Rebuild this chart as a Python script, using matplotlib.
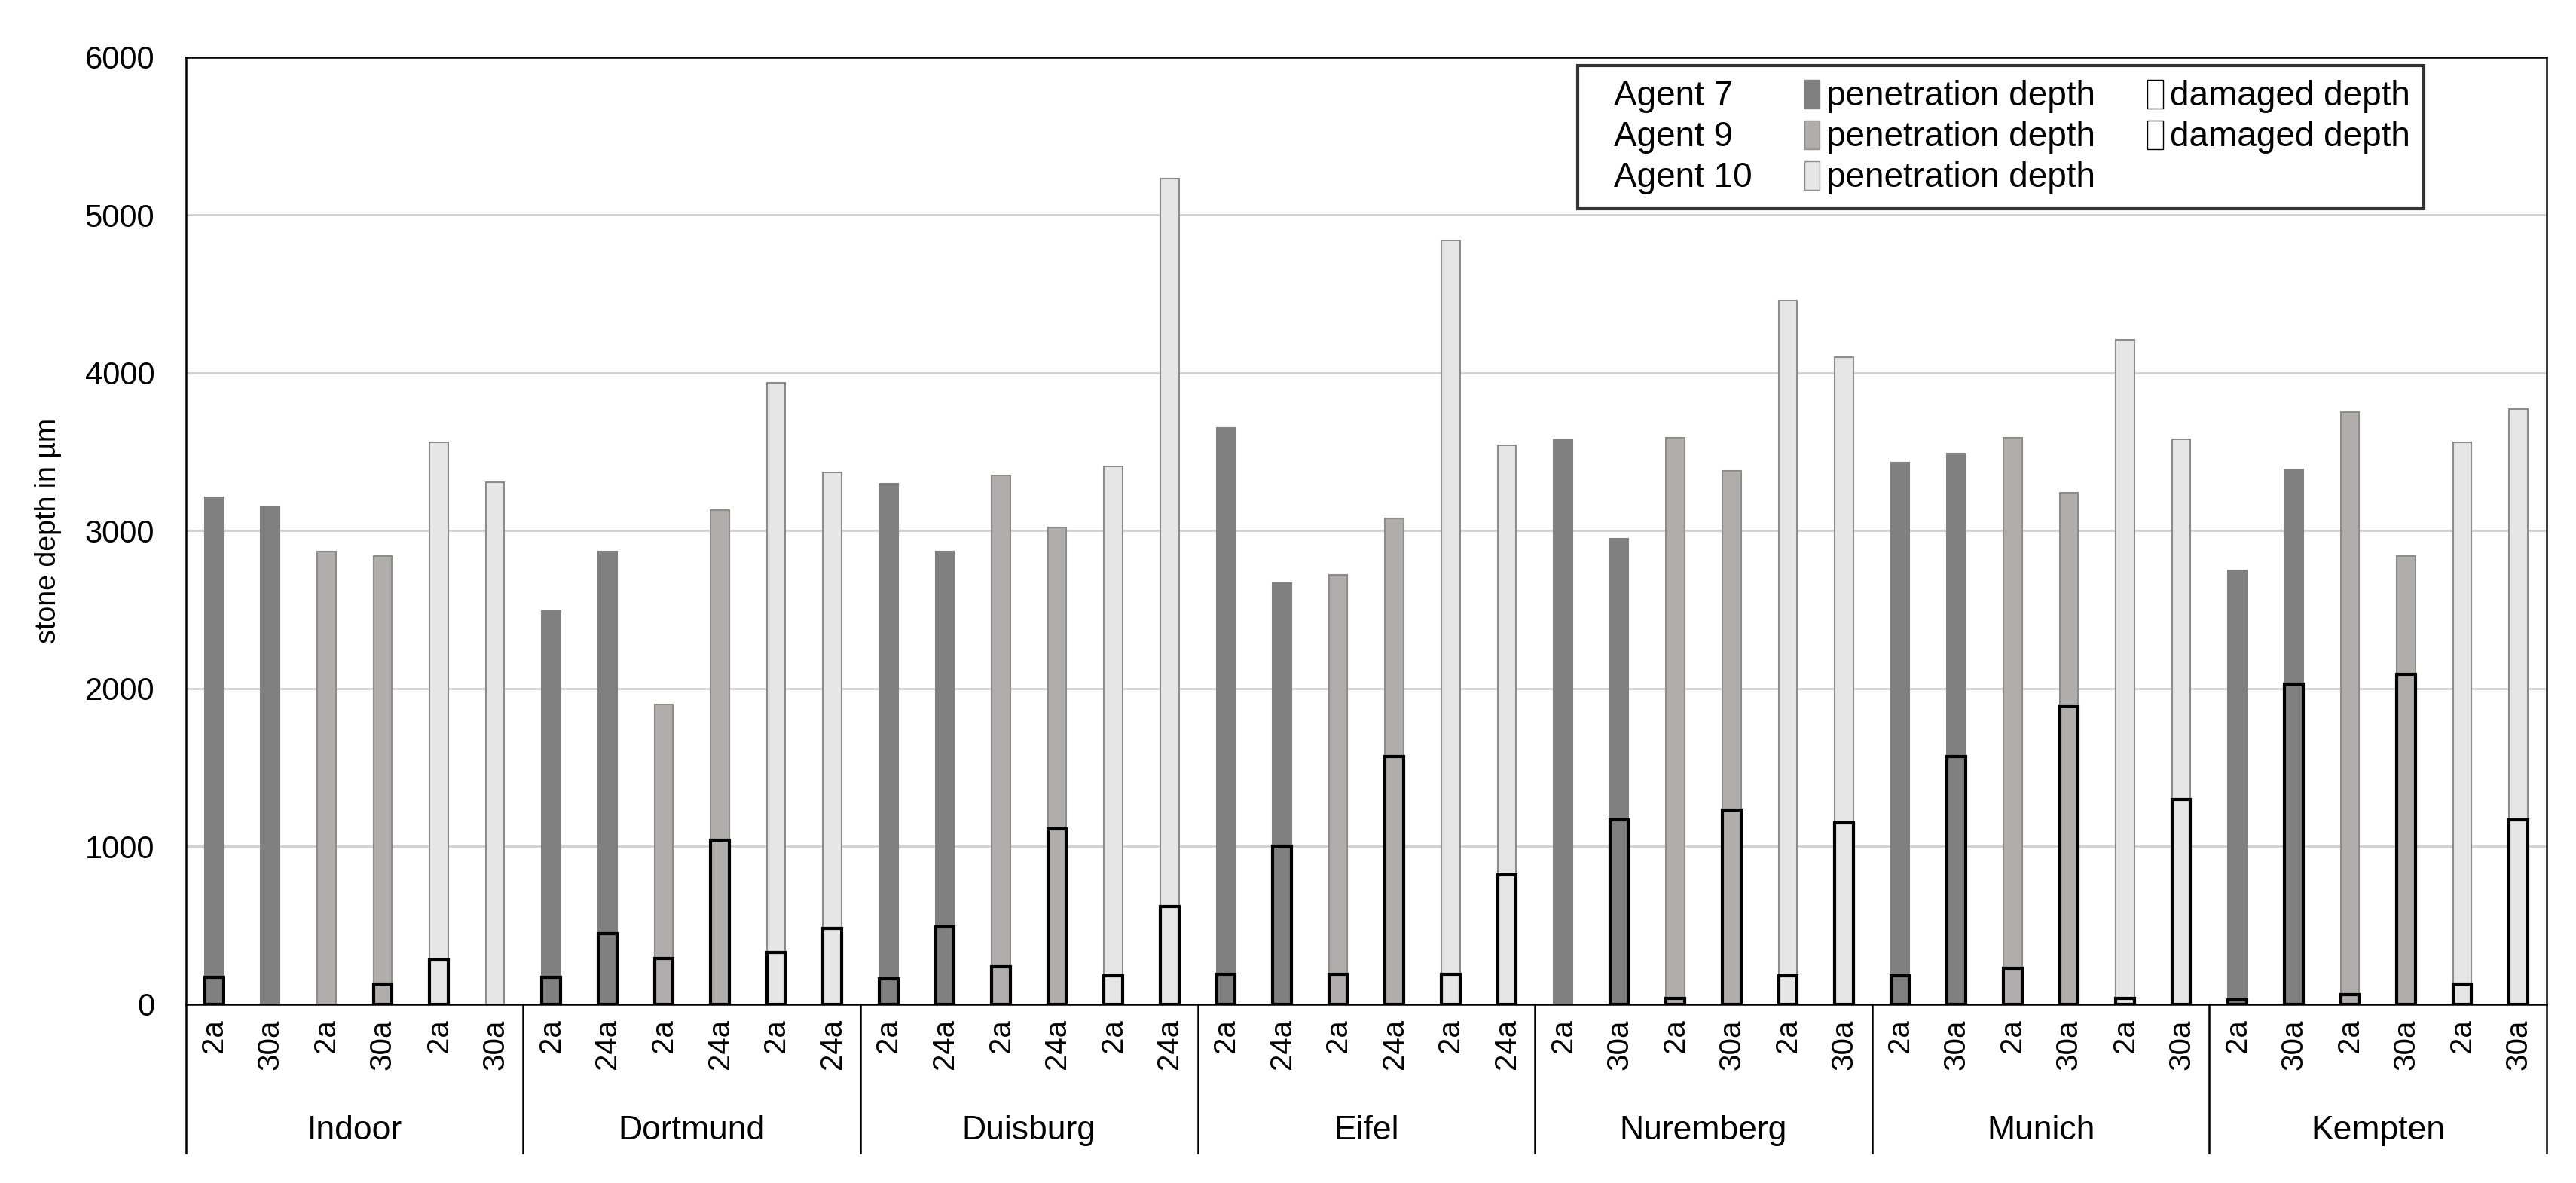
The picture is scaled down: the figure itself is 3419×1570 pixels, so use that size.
import numpy as np
import matplotlib
matplotlib.use("Agg")
import matplotlib.pyplot as plt
from matplotlib.patches import Patch

plt.rcParams["font.family"] = ["Liberation Sans", "DejaVu Sans"]

# --- data -------------------------------------------------------------------
sites = ["Indoor", "Dortmund", "Duisburg", "Eifel", "Nuremberg", "Munich", "Kempten"]
ages = [["2a", "30a", "2a", "30a", "2a", "30a"],
        ["2a", "24a", "2a", "24a", "2a", "24a"],
        ["2a", "24a", "2a", "24a", "2a", "24a"],
        ["2a", "24a", "2a", "24a", "2a", "24a"],
        ["2a", "30a", "2a", "30a", "2a", "30a"],
        ["2a", "30a", "2a", "30a", "2a", "30a"],
        ["2a", "30a", "2a", "30a", "2a", "30a"]]
# agent for each bar within a site: 7, 7, 9, 9, 10, 10
agent_of_bar = [7, 7, 9, 9, 10, 10]

penetration = [[3210, 3150, 2870, 2840, 3560, 3310],
               [2490, 2870, 1900, 3130, 3940, 3370],
               [3300, 2870, 3350, 3020, 3410, 5230],
               [3650, 2670, 2720, 3080, 4840, 3540],
               [3580, 2950, 3590, 3380, 4460, 4100],
               [3430, 3490, 3590, 3240, 4210, 3580],
               [2750, 3390, 3750, 2840, 3560, 3770]]
damaged = [[170, 0, 0, 130, 280, 0],
           [170, 450, 290, 1040, 330, 480],
           [160, 490, 240, 1110, 180, 620],
           [190, 1000, 190, 1570, 190, 820],
           [0, 1170, 40, 1230, 180, 1150],
           [180, 1570, 230, 1890, 40, 1300],
           [30, 2030, 60, 2090, 130, 1170]]

fill = {7: "#808080", 9: "#b0adac", 10: "#e6e6e6"}
edge = {7: "#808080", 9: "#8c8c8c", 10: "#8c8c8c"}

# --- figure -----------------------------------------------------------------
fig = plt.figure(figsize=(34.19, 15.70), dpi=100)
ax = fig.add_axes([0.0722, 0.151, 0.9164, 0.8006])

pen = np.array(penetration).ravel()
dam = np.array(damaged).ravel()
labels = [a for row in ages for a in row]
agents = agent_of_bar * len(sites)
x = np.arange(len(pen))
w = 0.33

ax.bar(x, pen, width=w, color=[fill[a] for a in agents],
       edgecolor=[edge[a] for a in agents], linewidth=1.5, zorder=2)
m = dam > 0
ax.bar(x[m], dam[m], width=w, color=[fill[a] for a, k in zip(agents, m) if k],
       edgecolor="black", linewidth=3, zorder=3)

ax.set_xlim(-0.5, len(pen) - 0.5)
ax.set_ylim(0, 6000)
ax.set_yticks(range(0, 6001, 1000))
ax.yaxis.grid(True, color="#d0d0d0", linewidth=2)
ax.set_axisbelow(True)
ax.tick_params(axis="y", length=0, pad=30, labelsize=30)
ax.set_ylabel("stone depth in µm", fontsize=27, labelpad=22)
for s in ax.spines.values():
    s.set_linewidth(1.8)

ax.set_xticks(x)
ax.set_xticklabels(labels, rotation=90, fontsize=29)
ax.tick_params(axis="x", length=0, pad=14)

# group separators and site labels below the axis
tr = ax.get_xaxis_transform()
n = len(agent_of_bar)
for i in range(len(sites) + 1):
    ax.plot([i * n - 0.5] * 2, [0, -0.157], color="black", lw=1.8,
            transform=tr, clip_on=False)
for i, s in enumerate(sites):
    ax.text(i * n + (n - 1) / 2, -0.133, s, transform=tr, ha="center",
            va="center", fontsize=32)

# legend
blank = Patch(facecolor="none", edgecolor="none")
handles = [blank, blank, blank,
           Patch(facecolor=fill[7], edgecolor=edge[7]),
           Patch(facecolor=fill[9], edgecolor=edge[9]),
           Patch(facecolor=fill[10], edgecolor=edge[10]),
           Patch(facecolor="white", edgecolor="black"),
           Patch(facecolor="white", edgecolor="black"),
           blank]
texts = ["Agent 7", "Agent 9", "Agent 10",
         "penetration depth", "penetration depth", "penetration depth",
         "damaged depth", "damaged depth", ""]
leg = ax.legend(handles, texts, ncol=3, loc="upper right",
                bbox_to_anchor=(0.948, 0.991), borderaxespad=0, fontsize=33,
                frameon=True, fancybox=False, handlelength=0.45,
                handleheight=0.9, handletextpad=0.2, columnspacing=1.5,
                labelspacing=0.2, borderpad=0.4)
leg.get_frame().set_edgecolor("black")
leg.get_frame().set_linewidth(3)

fig.savefig("out.png", dpi=100)
